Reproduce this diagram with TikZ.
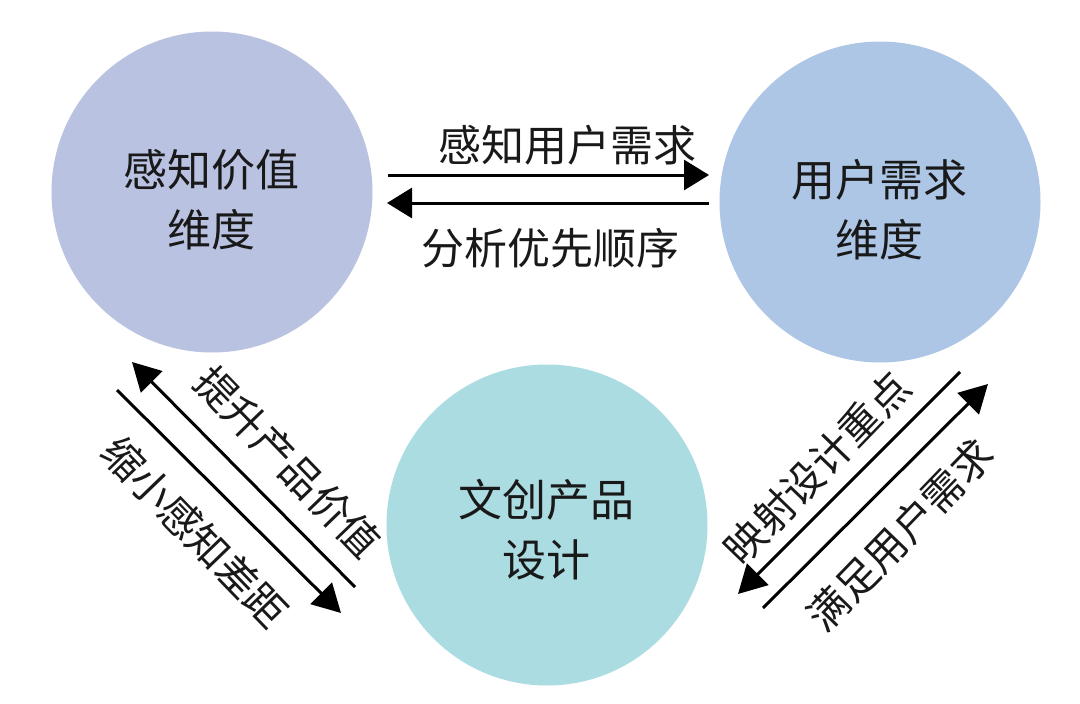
\documentclass[tikz,border=0pt]{standalone}
\usepackage{fontspec}
\setmainfont{Noto Sans CJK SC}
\usetikzlibrary{arrows.meta}
\definecolor{cL}{RGB}{186,194,226}
\definecolor{cR}{RGB}{173,198,230}
\definecolor{cB}{RGB}{171,220,226}
\definecolor{ink}{RGB}{25,25,25}
\tikzset{
  disc/.style={circle, minimum size=321pt, inner sep=0pt, draw=none},
  ctext/.style={align=center, text=ink, font=\fontsize{44}{60}\selectfont},
  lbl/.style={text=ink, font=\fontsize{43}{48}\selectfont, inner sep=0pt},
  dlbl/.style={text=ink, font=\fontsize{41}{48}\selectfont, inner sep=0pt},
  flow/.style={line width=3pt, draw=black, -{Triangle[length=25pt,width=30pt]}},
  dflow/.style={line width=3pt, draw=black, -{Triangle[length=28pt,width=30pt]}}
}
\begin{document}
\begin{tikzpicture}[x=1pt,y=-1pt]
\useasboundingbox[fill=white] (0,0) rectangle (1080,704);
% circles
\node[disc, fill=cL] (L) at (212,192) {};
\node[disc, fill=cR] (R) at (880,202) {};
\node[disc, fill=cB] (B) at (547,525) {};
\node[ctext] (Lt) at (211,200) {感知价值\\维度};
\node[ctext] (Rt) at (879,210) {用户需求\\维度};
\node[ctext] (Bt) at (546,530) {文创产品\\设计};
% horizontal arrows
\coordinate (h1a) at (388,175);
\coordinate (h1b) at (709,175);
\coordinate (h2a) at (709,203);
\coordinate (h2b) at (387,203);
\draw[flow] (h1a) -- (h1b);
\draw[flow] (h2a) -- (h2b);
\node[lbl] (t1) at (567,145) {感知用户需求};
\node[lbl] (t2) at (550,248) {分析优先顺序};
% left diagonal arrows
\coordinate (l1a) at (355,587);
\coordinate (l1b) at (132,362);
\coordinate (l2a) at (117,390);
\coordinate (l2b) at (341,613);
\draw[dflow] (l1a) -- (l1b);
\draw[dflow] (l2a) -- (l2b);
\node[dlbl, rotate=-46] (t3) at (288,462) {提升产品价值};
\node[dlbl, rotate=-46] (t4) at (195,532) {缩小感知差距};
% right diagonal arrows
\coordinate (r1a) at (960,372);
\coordinate (r1b) at (738,594);
\coordinate (r2a) at (763,608);
\coordinate (r2b) at (988,384);
\draw[dflow] (r1a) -- (r1b);
\draw[dflow] (r2a) -- (r2b);
\node[dlbl, rotate=46] (t5) at (817,468) {映射设计重点};
\node[dlbl, rotate=46] (t6) at (900,535) {满足用户需求};
\end{tikzpicture}
\end{document}
